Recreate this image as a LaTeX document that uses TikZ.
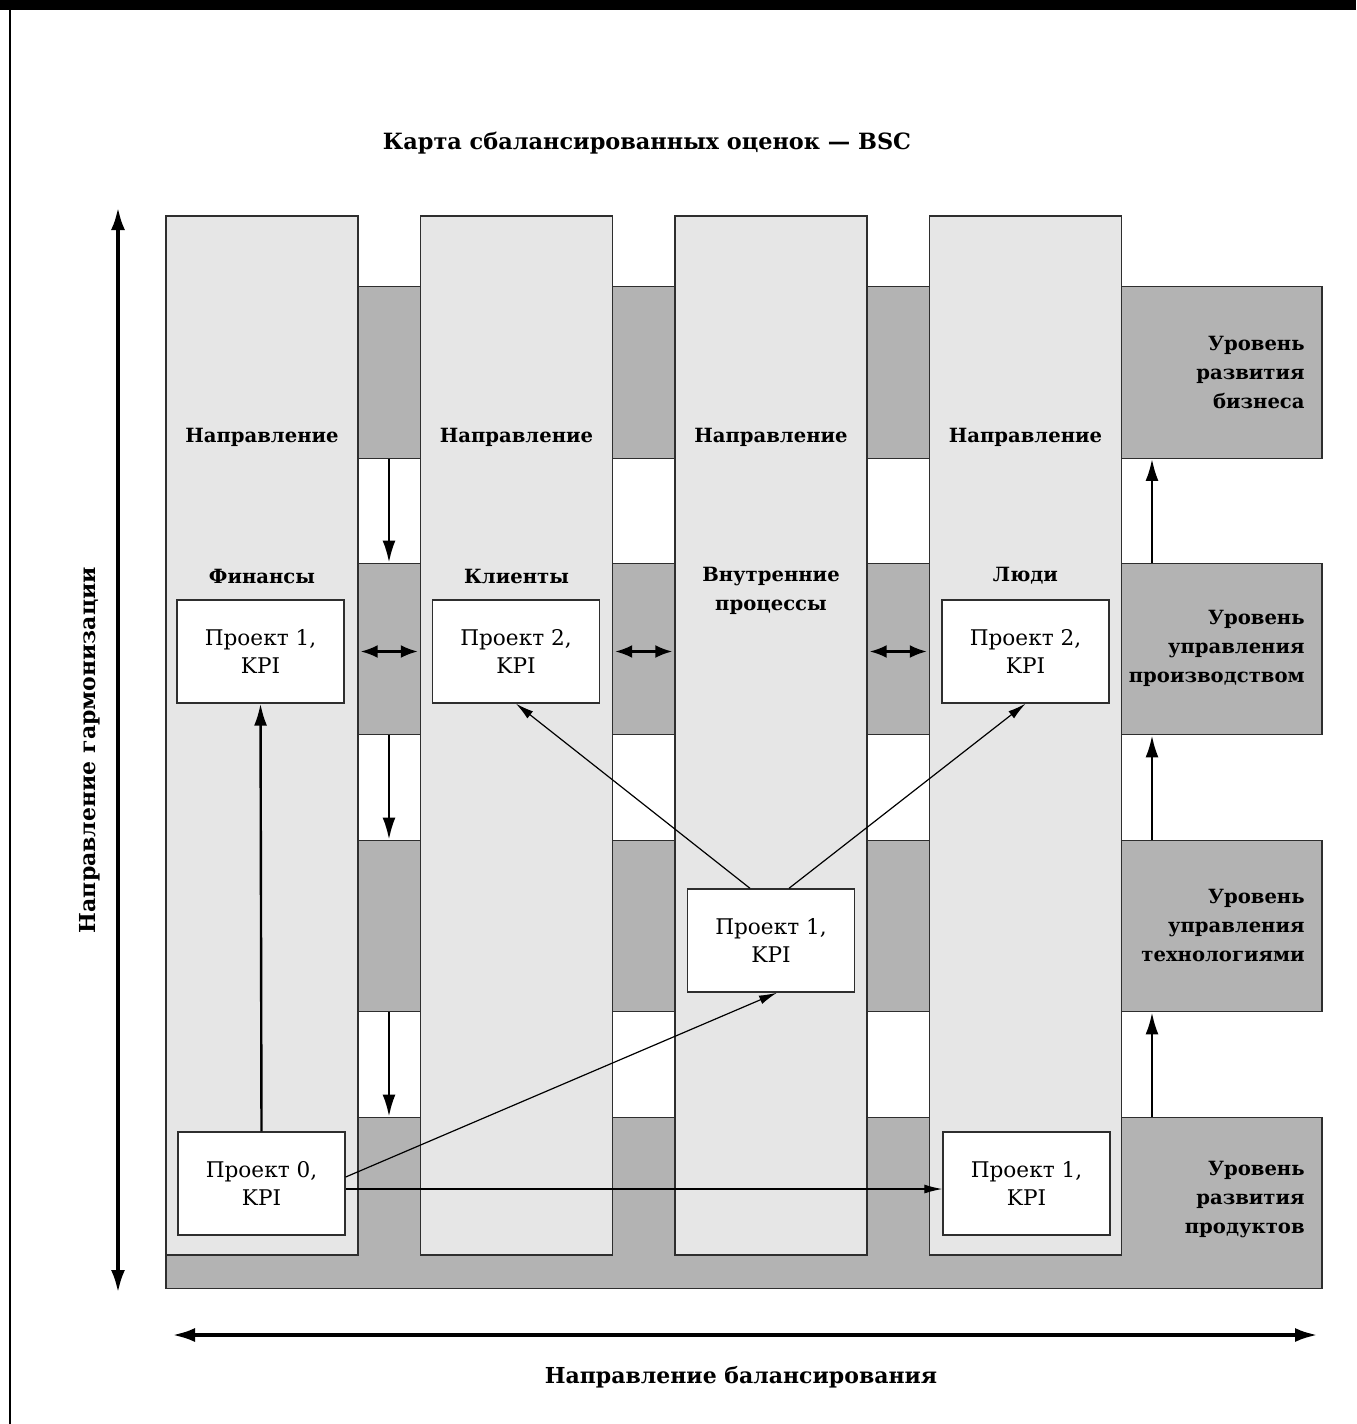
\documentclass[tikz,border=0pt]{standalone}
\usepackage{fontspec}
\setmainfont{DejaVu Serif}
\usetikzlibrary{arrows.meta}
\definecolor{stripfill}{HTML}{E6E6E6}
\definecolor{levelfill}{HTML}{B3B3B3}
\definecolor{rim}{HTML}{2E2E2E}

\begin{document}
\begin{tikzpicture}[x=0.5pt,y=-0.5pt,
	band/.style={draw=rim, line width=0.7pt, fill=levelfill, minimum width=578pt, minimum height=85.75pt, inner sep=0pt},
	strip/.style={draw=rim, line width=0.7pt, fill=stripfill, minimum width=96pt, minimum height=519.5pt, inner sep=0pt},
	proj/.style={draw=rim, line width=0.7pt, fill=white, minimum width=83.5pt, minimum height=51.5pt, align=center, font=\fontsize{10.8}{13.7}\selectfont},
	head/.style={font=\bfseries\fontsize{9.8}{14.5}\selectfont, align=center},
	lvl/.style={font=\bfseries\fontsize{9.8}{14.5}\selectfont, align=right, anchor=east, inner sep=0pt},
	axlabel/.style={font=\bfseries\fontsize{11}{14}\selectfont},
	flow/.style={line width=1.2pt, -{Latex[length=11pt,width=6.5pt]}},
	twoway/.style={line width=1.2pt, {Latex[length=8.5pt,width=6.5pt]}-{Latex[length=8.5pt,width=6.5pt]}, shorten <=1pt, shorten >=1pt},
	link/.style={line width=0.6pt, -{Latex[length=9pt,width=4.5pt]}},
	axis/.style={line width=2pt, {Latex[length=11.5pt,width=7pt]}-{Latex[length=11.5pt,width=7pt]}}]
		
		\useasboundingbox (0,0) rectangle (1356,1424);
		
		% frame
		\fill (0,0) rectangle (1356,10);
		\draw[line width=1pt] (10,10) -- (10,1424);
		
		\node[head, font=\bfseries\fontsize{11.2}{14}\selectfont] (title) at (647,143) {Карта сбалансированных оценок — BSC};
		
		% levels
		\node[band] (r1) at (744,372.5) {};
		\node[band] (r2) at (744,649) {};
		\node[band] (r3) at (744,926) {};
		\node[band] (r4) at (744,1203) {};
		
		% directions
		\node[strip] (c1) at (262,735.5) {};
		\node[strip] (c2) at (516.5,735.5) {};
		\node[strip] (c3) at (771,735.5) {};
		\node[strip] (c4) at (1025.5,735.5) {};
		
		\node[head] (h1) at (262,437) {Направление};
		\node[head] (h2) at (516.5,437) {Направление};
		\node[head] (h3) at (771,437) {Направление};
		\node[head] (h4) at (1025.5,437) {Направление};
		
		\node[head] (n1) at (262,576) {Финансы};
		\node[head] (n2) at (516.5,576) {Клиенты};
		\node[head] (n3) at (771,590.5) {Внутренние\\процессы};
		\node[head] (n4) at (1025.5,576) {Люди};
		
		\node[lvl] (l1) at (1305,372) {Уровень\\развития\\бизнеса};
		\node[lvl] (l2) at (1305,648) {Уровень\\управления\\производством};
		\node[lvl] (l3) at (1305,925) {Уровень\\управления\\технологиями};
		\node[lvl] (l4) at (1305,1200) {Уровень\\развития\\продуктов};
		
		% projects
		\node[proj] (p1) at (260.5,651.5) {Проект 1,\\KPI};
		\node[proj] (p2) at (516,651.5) {Проект 2,\\KPI};
		\node[proj] (p3) at (1025.5,651.5) {Проект 2,\\KPI};
		\node[proj] (p4) at (771,940.5) {Проект 1,\\KPI};
		\node[proj] (p0) at (261.5,1183.5) {Проект 0,\\KPI};
		\node[proj] (p5) at (1026.5,1183.5) {Проект 1,\\KPI};
		
		% level arrows
		\coordinate (down) at (389,0);
		\coordinate (up) at (1152,0);
		\draw[flow] (r1.south -| down) -- (r2.north -| down);
		\draw[flow] (r2.south -| down) -- (r3.north -| down);
		\draw[flow] (r3.south -| down) -- (r4.north -| down);
		\draw[flow] (r4.north -| up) -- (r3.south -| up);
		\draw[flow] (r3.north -| up) -- (r2.south -| up);
		\draw[flow] (r2.north -| up) -- (r1.south -| up);
		
		\draw[twoway] (c1.east |- p1) -- (c2.west |- p1);
		\draw[twoway] (c2.east |- p1) -- (c3.west |- p1);
		\draw[twoway] (c3.east |- p1) -- (c4.west |- p1);
		
		% project links
		\draw[flow] (p0.north) -- (p1.south);
		\draw[link] ([xshift=-10.5pt]p4.north) -- (p2.south);
		\draw[link] ([xshift=9pt]p4.north) -- (p3.south);
		\draw[link] ([yshift=3.25pt]p0.east) -- ([xshift=3pt]p4.south);
		\draw[link] ([yshift=-2.75pt]p0.east) -- ([yshift=-2.75pt]p5.west);
		
		% axes
		\coordinate (vtop) at (118,207);
		\coordinate (vbot) at (118,1293);
		\coordinate (hleft) at (172,1335);
		\coordinate (hright) at (1318,1335);
		\draw[axis] (vtop) -- (vbot);
		\draw[axis] (hleft) -- (hright);
		\node[axlabel, rotate=90] (harm) at (90,750) {Направление гармонизации};
		\node[axlabel] (bal) at (741,1377) {Направление балансирования};
		
\end{tikzpicture}
\end{document}
